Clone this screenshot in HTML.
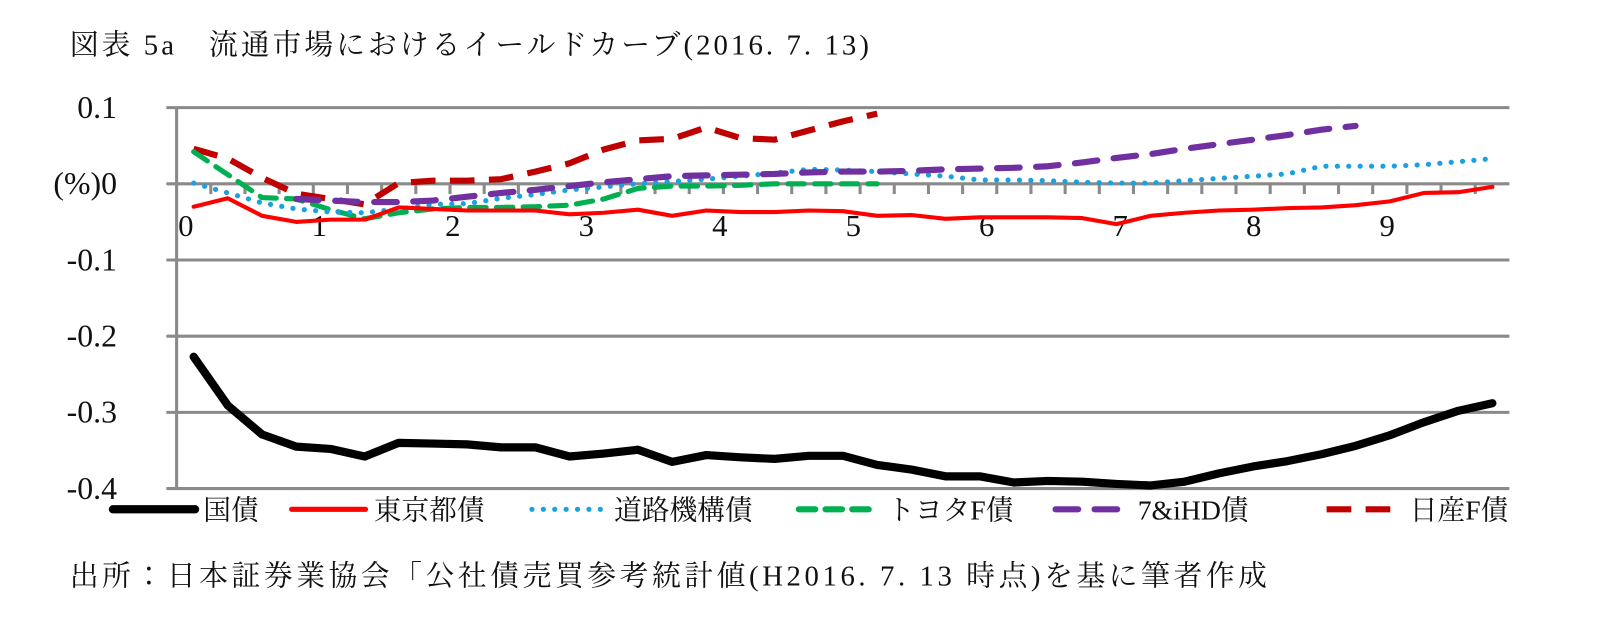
<!DOCTYPE html>
<html><head><meta charset="utf-8"><style>
body{margin:0;background:#fff;}
svg{display:block;}
text{font-family:"Liberation Serif","Noto Serif CJK JP","Noto Serif CJK SC",serif;fill:#111;}
</style></head><body>
<svg id="chart" width="1610" height="631" viewBox="0 0 1610 631" xmlns="http://www.w3.org/2000/svg">
<g transform="scale(1.0268)">
<text x="68" y="53" font-size="28" letter-spacing="3">図表 5a　流通市場におけるイールドカーブ(2016. 7. 13)</text>
<g id="grid"></g>
<g id="series"></g>
<g id="legend"></g>
<text x="68" y="570" font-size="28" letter-spacing="3.5">出所：日本証券業協会「公社債売買参考統計値(H2016. 7. 13 時点)を基に筆者作成</text>
</g>
</svg>
<script>
const yTicks=[0.1,0,-0.1,-0.2,-0.3,-0.4];
const yTickLabels=["0.1","(%)0","-0.1","-0.2","-0.3","-0.4"];
const xLabels=["0","1","2","3","4","5","6","7","8","9"];
const nCat=39;
const jgb=[-0.227,-0.291,-0.329,-0.345,-0.348,-0.358,-0.340,-0.341,-0.342,-0.346,-0.346,-0.358,-0.354,-0.349,-0.365,-0.356,-0.359,-0.361,-0.357,-0.357,-0.369,-0.375,-0.384,-0.384,-0.392,-0.390,-0.391,-0.394,-0.396,-0.391,-0.380,-0.371,-0.364,-0.355,-0.344,-0.330,-0.313,-0.298,-0.288];
const tokyo=[-0.030,-0.019,-0.042,-0.050,-0.047,-0.047,-0.031,-0.033,-0.035,-0.035,-0.035,-0.040,-0.038,-0.034,-0.042,-0.035,-0.037,-0.037,-0.035,-0.036,-0.042,-0.041,-0.046,-0.044,-0.044,-0.044,-0.045,-0.053,-0.042,-0.038,-0.035,-0.034,-0.032,-0.031,-0.028,-0.023,-0.012,-0.011,-0.004];
const road=[0.001,-0.012,-0.025,-0.033,-0.037,-0.038,-0.033,-0.027,-0.026,-0.019,-0.014,-0.008,-0.004,0.000,0.003,0.006,0.010,0.014,0.019,0.018,0.016,0.013,0.010,0.005,0.005,0.004,0.002,0.001,0.001,0.004,0.007,0.010,0.013,0.023,0.023,0.023,0.025,0.029,0.033];
const toyota=[0.042,0.012,-0.018,-0.020,-0.034,-0.046,-0.038,-0.033,-0.031,-0.031,-0.030,-0.028,-0.020,-0.006,-0.003,-0.003,-0.002,0.000,0.000,0.000,0.000];
const sevenI=[null,null,null,-0.020,-0.022,-0.024,-0.024,-0.022,-0.017,-0.012,-0.008,-0.003,0.002,0.006,0.010,0.011,0.012,0.013,0.015,0.016,0.016,0.017,0.019,0.020,0.021,0.023,0.028,0.034,0.039,0.046,0.052,0.058,0.064,0.071,0.076];
const nissan=[0.046,0.033,0.008,-0.013,-0.020,-0.027,0.001,0.004,0.004,0.006,0.016,0.027,0.045,0.057,0.059,0.074,0.060,0.058,0.070,0.082,0.092];

const NS="http://www.w3.org/2000/svg";
const X0=172,X1=1470,Y0=179,PX=742;
const catW=(X1-X0)/nCat;
function xs(i){return X0+catW*(i+0.5);}
function ys(v){return Y0-v*PX;}
function mk(tag,attrs,parent){const e=document.createElementNS(NS,tag);for(const k in attrs)e.setAttribute(k,attrs[k]);parent.appendChild(e);return e;}
const grid=document.getElementById('grid');
yTicks.forEach((v,i)=>{
  const l=mk('line',{x1:162,x2:X1,y1:ys(v),y2:ys(v),stroke:'#8a8a8a','stroke-width':3},grid);
  
  
  const t=mk('text',{x:114,y:ys(v)+10,'text-anchor':'end','font-size':31},grid);
  t.textContent=yTickLabels[i];
  
  
});
const ax=mk('line',{x1:X0,x2:X0,y1:ys(0.1),y2:ys(-0.4),stroke:'#8a8a8a','stroke-width':3},grid);


for(let i=1;i<nCat;i++){
  const tk=mk('line',{x1:X0+catW*i,x2:X0+catW*i,y1:Y0,y2:Y0+10,stroke:'#8a8a8a','stroke-width':3},grid);
  
  
}
xLabels.forEach((s,i)=>{
  const t=mk('text',{x:181+130*i,y:230,'text-anchor':'middle','font-size':30},grid);
  t.textContent=s;
  
  
});
const ser=document.getElementById('series');
function path(arr){let d='';let pen=false;arr.forEach((v,i)=>{if(v===null){pen=false;return;}d+=(pen?'L':'M')+xs(i).toFixed(1)+' '+ys(v).toFixed(1)+' ';pen=true;});return d;}
const specs=[
 [nissan,'#c00000',6,'24 14','butt','nissan-f-line'],
 [toyota,'#00b050',5,'16 10','round','toyota-f-line'],
 [road,'#1ba1e2',5,'0.1 11','round','road-agency-line'],
 [sevenI,'#7030a0',6,'22 16','round','seven-i-line'],
 [tokyo,'#ff0000',4,'','round','tokyo-line'],
 [jgb,'#000',8,'','round','jgb-line']
];
specs.forEach(s=>{
  const p=mk('path',{d:path(s[0]),fill:'none',stroke:s[1],'stroke-width':s[2],'stroke-linecap':s[4],'stroke-linejoin':'round'},ser);
  if(s[3])p.setAttribute('stroke-dasharray',s[3]);
  
  
});
const leg=document.getElementById('legend');
const legItems=[
 [110,190,'#000',8,'','round','国債'],
 [284,356,'#ff0000',5,'','round','東京都債'],
 [518,590,'#1ba1e2',5,'0.1 11','round','道路機構債'],
 [778,856,'#00b050',6,'16 10','round','トヨタF債'],
 [1028,1100,'#7030a0',6,'22 16','round','7&iHD債'],
 [1292,1365,'#c00000',6,'24 14','butt','日産F債']
];
legItems.forEach(it=>{
  const l=mk('line',{x1:it[0],x2:it[1],y1:496,y2:496,stroke:it[2],'stroke-width':it[3],'stroke-linecap':it[5]},leg);
  if(it[4])l.setAttribute('stroke-dasharray',it[4]);
  
  
  const t=mk('text',{x:it[1]+8,y:506,'font-size':27},leg);
  t.textContent=it[6];
  
  
});
</script>
</body></html>
